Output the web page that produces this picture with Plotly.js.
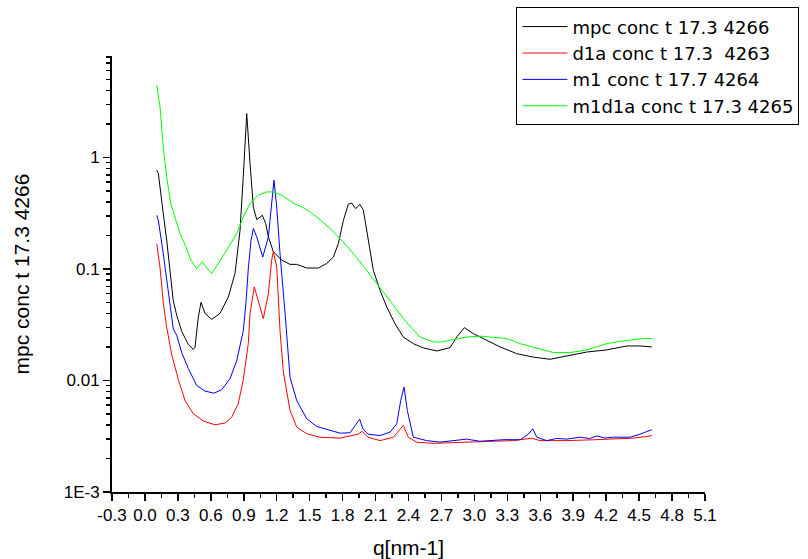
<!DOCTYPE html>
<html><head><meta charset="utf-8">
<script src="https://cdn.plot.ly/plotly-3.0.1.min.js"></script>
<style>html,body{margin:0;padding:0;background:#fff}#chart{width:808px;height:559px}</style>
</head><body><div id="chart"></div>
<script>
const seriesNames = ["mpc conc t 17.3 4266", "d1a conc t 17.3 \u00a04263", "m1 conc t 17.7 4264", "m1d1a conc t 17.3 4265"];
const seriesColors = ["#000000", "#ff0000", "#0000ff", "#00ff00"];

const mpcX = [0.107,0.122,0.167,0.198,0.258,0.289,0.335,0.395,0.44,0.456,0.486,0.511,0.547,0.608,0.684,0.759,0.82,0.866,0.902,0.927,0.957,0.987,1.018,1.069,1.1,1.124,1.169,1.246,1.321,1.382,1.473,1.579,1.655,1.716,1.761,1.807,1.852,1.883,1.919,1.959,1.989,2.034,2.08,2.141,2.202,2.277,2.353,2.444,2.535,2.657,2.778,2.839,2.909,2.991,3.113,3.234,3.386,3.537,3.689,3.841,4.023,4.205,4.388,4.509,4.615];
const mpcY = [0.77,0.72,0.314,0.181,0.052,0.0385,0.0276,0.021,0.019,0.0199,0.037,0.0503,0.040,0.0353,0.040,0.056,0.091,0.222,0.88,2.48,0.88,0.36,0.277,0.303,0.255,0.194,0.143,0.12,0.11,0.11,0.102,0.102,0.112,0.128,0.169,0.273,0.381,0.39,0.348,0.379,0.336,0.181,0.097,0.0644,0.0456,0.0323,0.0245,0.0214,0.0196,0.0184,0.0197,0.0245,0.0298,0.0263,0.023,0.02,0.0174,0.0162,0.0155,0.0167,0.018,0.0188,0.0204,0.0204,0.020];

const d1aX = [0.107,0.137,0.167,0.198,0.244,0.289,0.304,0.365,0.44,0.532,0.638,0.729,0.79,0.85,0.896,0.941,0.957,0.996,1.032,1.078,1.124,1.154,1.169,1.2,1.23,1.26,1.321,1.382,1.473,1.594,1.777,1.94,1.977,2.031,2.141,2.262,2.317,2.353,2.398,2.475,2.626,2.869,3.113,3.355,3.522,3.598,3.841,4.083,4.266,4.448,4.57,4.615];
const d1aY = [0.169,0.104,0.05,0.03,0.017,0.0112,0.0102,0.0066,0.00504,0.00432,0.00401,0.00415,0.00469,0.0062,0.0102,0.0214,0.04,0.069,0.0524,0.0359,0.060,0.12,0.143,0.104,0.028,0.012,0.0054,0.00382,0.00333,0.0031,0.00304,0.0033,0.0035,0.0031,0.00289,0.0031,0.0036,0.00395,0.0031,0.0028,0.00273,0.0028,0.00284,0.00289,0.00304,0.00289,0.00289,0.00294,0.00298,0.00304,0.00315,0.00321];

const m1X = [0.107,0.122,0.167,0.213,0.258,0.289,0.335,0.395,0.471,0.547,0.629,0.699,0.775,0.836,0.896,0.92,0.941,0.966,0.987,1.018,1.073,1.124,1.154,1.175,1.2,1.23,1.276,1.321,1.382,1.473,1.564,1.655,1.777,1.868,1.913,1.955,1.985,2.031,2.141,2.232,2.293,2.329,2.359,2.389,2.444,2.566,2.687,2.8,2.93,3.05,3.143,3.28,3.416,3.491,3.531,3.568,3.659,3.75,3.841,3.962,4.05,4.114,4.19,4.266,4.418,4.509,4.615];
const m1Y = [0.303,0.273,0.1375,0.060,0.029,0.0255,0.0178,0.0128,0.00903,0.00803,0.0077,0.00827,0.0104,0.0151,0.028,0.05,0.10,0.18,0.231,0.194,0.128,0.194,0.414,0.625,0.36,0.1375,0.040,0.0107,0.0066,0.00454,0.00387,0.00363,0.00337,0.0034,0.0039,0.0045,0.0037,0.0033,0.00321,0.00344,0.00409,0.0066,0.00873,0.0054,0.0031,0.00289,0.0028,0.0029,0.00298,0.00285,0.00289,0.00295,0.00294,0.0033,0.00369,0.0031,0.00289,0.00302,0.00298,0.0031,0.00302,0.00318,0.00305,0.0031,0.0031,0.0033,0.00362];

const m1d1aX = [0.107,0.137,0.167,0.198,0.235,0.274,0.319,0.374,0.417,0.471,0.522,0.562,0.608,0.668,0.759,0.836,0.896,0.957,1.032,1.109,1.169,1.246,1.351,1.458,1.564,1.685,1.777,1.898,2.02,2.141,2.262,2.384,2.505,2.626,2.687,2.778,2.93,3.052,3.173,3.295,3.416,3.568,3.72,3.871,4.023,4.205,4.388,4.539,4.615];
const m1d1aY = [4.46,2.85,1.24,0.67,0.386,0.293,0.208,0.158,0.12,0.101,0.116,0.102,0.0912,0.112,0.158,0.208,0.293,0.386,0.459,0.491,0.491,0.459,0.39,0.348,0.293,0.231,0.1875,0.1375,0.097,0.068,0.047,0.033,0.0245,0.0222,0.0221,0.0229,0.0245,0.025,0.0245,0.0238,0.0214,0.0194,0.0178,0.0178,0.0188,0.0214,0.0229,0.0238,0.0238];

const xTickVals = [-0.3,0,0.3,0.6,0.9,1.2,1.5,1.8,2.1,2.4,2.7,3.0,3.3,3.6,3.9,4.2,4.5,4.8,5.1];
const xTickText = ["-0.3","0.0","0.3","0.6","0.9","1.2","1.5","1.8","2.1","2.4","2.7","3.0","3.3","3.6","3.9","4.2","4.5","4.8","5.1"];
const yTickVals = [0.001,0.01,0.1,1];
const yTickText = ["1E-3","0.01","0.1","1"];
const xTitle = "q[nm-1]";
const yTitle = "mpc conc t 17.3 4266";

const yMinor = [];
for (let e = -3; e <= 0; e++) for (let m = 2; m <= 9; m++) yMinor.push(m * Math.pow(10, e));

const xs = [mpcX, d1aX, m1X, m1d1aX];
const ys = [mpcY, d1aY, m1Y, m1d1aY];
const traces = xs.map((x, i) => ({
  type: "scatter", mode: "lines", x: x, y: ys[i], name: seriesNames[i],
  line: {color: seriesColors[i], width: 1}
}));

const FONT = "Liberation Sans, Arial, sans-serif";
const LEGEND_FONT = "DejaVu Sans, Liberation Sans, sans-serif";
const layout = {
  width: 808, height: 559,
  margin: {l: 112, r: 103, t: 56, b: 67, pad: 0, autoexpand: false},
  paper_bgcolor: "#ffffff", plot_bgcolor: "#ffffff",
  font: {family: FONT, color: "#000000", size: 17},
  showlegend: true,
  legend: {x: 0.682, y: 1.1115, xanchor: "left", yanchor: "top", itemwidth: 45,
    bordercolor: "#000000", borderwidth: 1, bgcolor: "#ffffff",
    font: {family: LEGEND_FONT, size: 18, color: "#000000"}},
  xaxis: {
    range: [-0.3, 5.1], tickmode: "array", tickvals: xTickVals, ticktext: xTickText,
    ticks: "outside", ticklen: 7, tickwidth: 1.5, tickcolor: "#000000",
    showline: true, linewidth: 2, linecolor: "#000000",
    showgrid: false, zeroline: false,
    tickfont: {family: FONT, size: 17, color: "#000000"},
    minor: {tickmode: "linear", tick0: -0.3, dtick: 0.15, ticks: "outside", ticklen: 4, tickwidth: 1.5, tickcolor: "#000000", showgrid: false},
    title: {text: xTitle, font: {family: FONT, size: 21, color: "#000000"}, standoff: 18}
  },
  yaxis: {
    type: "log", range: [-3, 0.91], tickmode: "array", tickvals: yTickVals, ticktext: yTickText,
    ticks: "outside", ticklen: 7, tickwidth: 1.5, tickcolor: "#000000",
    showline: true, linewidth: 2, linecolor: "#000000",
    showgrid: false, zeroline: false,
    tickfont: {family: FONT, size: 17, color: "#000000"},
    minor: {tickmode: "array", tickvals: yMinor, ticks: "outside", ticklen: 4, tickwidth: 1.5, tickcolor: "#000000", showgrid: false},
    title: {text: yTitle, font: {family: FONT, size: 21, color: "#000000"}, standoff: 28}
  }
};
Plotly.newPlot("chart", traces, layout, {displayModeBar: false, staticPlot: true});
</script>
</body></html>
